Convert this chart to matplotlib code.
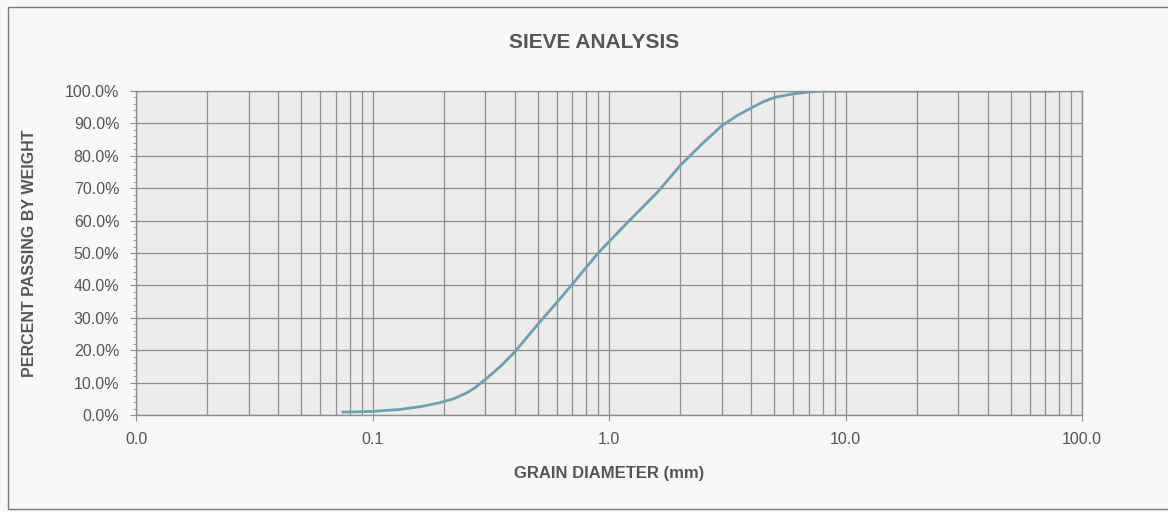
import numpy as np
import matplotlib
matplotlib.use('Agg')
import matplotlib.pyplot as plt
from matplotlib.ticker import FixedLocator, FuncFormatter, LogLocator, MultipleLocator
from matplotlib.patches import Rectangle

# ----
# data
# ----
diameter = [0.075, 0.1, 0.13, 0.16, 0.19, 0.22, 0.25, 0.27, 0.3, 0.35, 0.4, 0.5,
            0.6, 0.7, 0.9, 1.2, 1.6, 2.0, 2.5, 3.0, 3.5, 4.0, 4.5, 5.0, 6.0,
            7.0, 8.0, 10.0, 20.0, 40.0, 75.0]
passing = [0.9, 1.1, 1.7, 2.6, 3.7, 5.0, 6.8, 8.3, 11.0, 15.2, 19.5, 28.0,
           34.6, 40.4, 50.0, 59.5, 68.7, 77.0, 84.0, 89.3, 92.5, 94.8, 96.7, 98.0, 99.1,
           99.7, 100.0, 100.0, 100.0, 100.0, 100.0]
x_ticks = [0.01, 0.1, 1.0, 10.0, 100.0]
y_ticks = np.arange(0, 101, 10)

txt = '#555555'
grid = '#8f8f8f'
plt.rcParams['font.family'] = ['Liberation Sans', 'DejaVu Sans']

fig = plt.figure(figsize=(11.68, 5.12), dpi=100, facecolor='#f8f8f8')
ax = fig.add_axes([136/1168, 1-415/512, (1082-136)/1168, (415-91)/512])
ax.set_facecolor('#ececec')

# outer frame of the chart area
fig.patches.append(Rectangle((8/1168, 3/512), 1.2, 502/512, transform=fig.transFigure,
                             fill=False, edgecolor='#7a7a7a', linewidth=1.0))

ax.set_xscale('log')
ax.set_xlim(0.01, 100)
ax.set_ylim(0, 100)

ax.xaxis.set_major_locator(FixedLocator(x_ticks))
ax.xaxis.set_minor_locator(LogLocator(base=10, subs=np.arange(2, 10)))
ax.xaxis.set_major_formatter(FuncFormatter(lambda v, p: '%.1f' % v))
ax.xaxis.set_minor_formatter(FuncFormatter(lambda v, p: ''))
ax.yaxis.set_major_locator(FixedLocator(y_ticks))
ax.yaxis.set_minor_locator(MultipleLocator(2))
ax.yaxis.set_major_formatter(FuncFormatter(lambda v, p: '%.1f%%' % v))

ax.grid(True, which='major', color=grid, linewidth=0.9)
ax.grid(True, which='minor', axis='x', color=grid, linewidth=0.9)
ax.set_axisbelow(True)

ax.tick_params(which='major', direction='out', length=4, color=grid, labelcolor=txt,
               labelsize=11.5)
ax.tick_params(axis='y', which='major', pad=8)
ax.tick_params(axis='x', which='major', pad=8)
ax.tick_params(which='minor', direction='out', length=2, color=grid)
ax.tick_params(axis='x', which='minor', length=0)
for s in ax.spines.values():
    s.set_color(grid)
    s.set_linewidth(1.0)

ax.plot(diameter, passing, '-', color='#6f9fb3', linewidth=2.0)

ax.set_xlabel('GRAIN DIAMETER (mm)', fontsize=12, fontweight='bold', color=txt, labelpad=14)
ax.set_ylabel('PERCENT PASSING BY WEIGHT', fontsize=11.5, fontweight='bold', color=txt, labelpad=20)
fig.text(594/1168, 1-43/512, 'SIEVE ANALYSIS', ha='center', va='center',
         fontsize=15, fontweight='bold', color=txt)

fig.savefig('out.png', dpi=100, facecolor=fig.get_facecolor())
